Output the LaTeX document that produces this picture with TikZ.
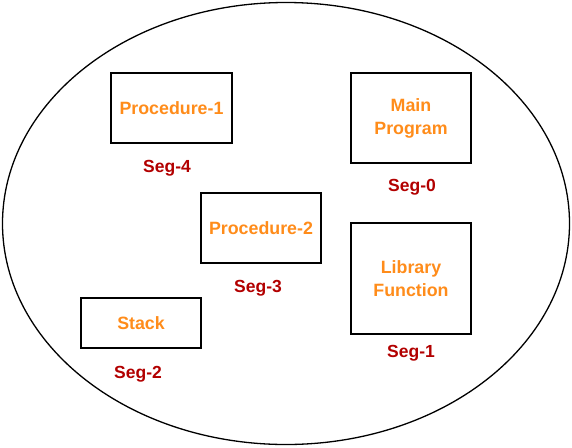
\documentclass[tikz,border=0pt]{standalone}
\usepackage{fontspec}
\setmainfont{Liberation Sans}
\usetikzlibrary{shapes.geometric}
\definecolor{boxorange}{HTML}{FF8C1A}
\definecolor{segred}{HTML}{B20000}
\begin{document}
\begin{tikzpicture}[x=1pt,y=-1pt,
  seg/.style={draw=black,line width=1.7pt,fill=white,text=boxorange,font=\fontsize{17.8}{21}\selectfont\bfseries,align=center,inner sep=0pt},
  seglabel/.style={text=segred,font=\fontsize{17.5}{21}\selectfont\bfseries,inner sep=0pt}]
\useasboundingbox (0,0) rectangle (572,447);
\node[draw=black,line width=1.3pt,ellipse,minimum width=567pt,minimum height=442pt,inner sep=0pt] (mem) at (286,223.5) {};
\node[seg,minimum width=121pt,minimum height=70pt] (p1) at (171.5,108) {Procedure-1};
\node[seglabel] (s4) at (167,168) {Seg-4};
\node[seg,minimum width=120pt,minimum height=90pt] (mp) at (411,118) {Main\\[2pt]Program};
\node[seglabel] (s0) at (412,187) {Seg-0};
\node[seg,minimum width=120pt,minimum height=70pt] (p2) at (261,228) {Procedure-2};
\node[seglabel] (s3) at (258,288) {Seg-3};
\node[seg,minimum width=120pt,minimum height=111pt] (lf) at (411,278.5) {Library\\[2pt]Function};
\node[seglabel] (s1) at (411,353) {Seg-1};
\node[seg,minimum width=120pt,minimum height=50pt] (st) at (141,323) {Stack};
\node[seglabel] (s2) at (138,374) {Seg-2};
\end{tikzpicture}
\end{document}
